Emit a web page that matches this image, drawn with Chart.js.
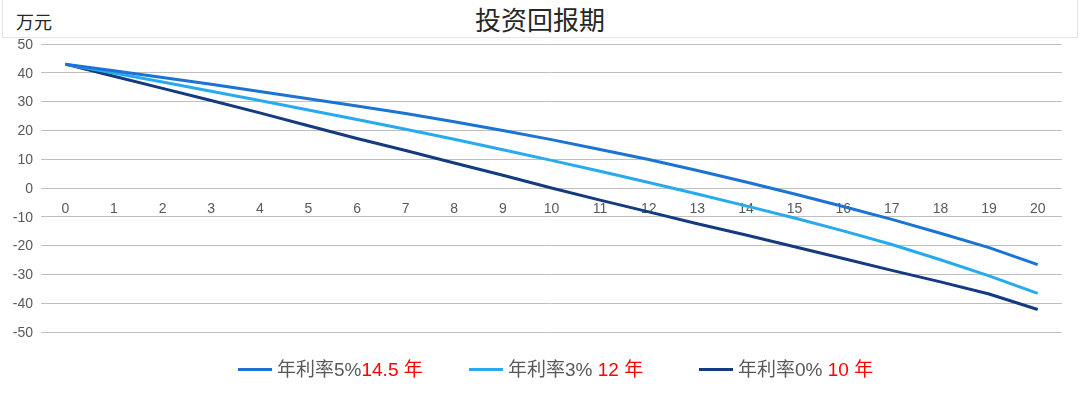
<!DOCTYPE html>
<html>
<head>
<meta charset="utf-8">
<script src="https://cdn.jsdelivr.net/npm/chart.js@4.4.0/dist/chart.umd.min.js"></script>
<style>
    html, body { margin: 0; padding: 0; background: #fff; }
    #wrap { position: relative; width: 1080px; height: 398px; overflow: hidden; }
    #payback { position: absolute; left: 0; top: 0; }
    #headBox { position: absolute; left: 2px; top: 0; width: 1076px; height: 38px; border: 1px solid #e4e4e4; border-top: none; box-sizing: border-box; }
    #title { position: absolute; left: 0; top: 2px; width: 1080px; text-align: center; font-family: "Noto Sans CJK SC", sans-serif; font-size: 26px; line-height: 34px; color: #262626; }
    #unit { position: absolute; left: 16px; top: 8px; font-family: "Noto Sans CJK SC", sans-serif; font-size: 18px; line-height: 26px; color: #262626; }
    #legend { position: absolute; left: 0; top: 356px; width: 1080px; height: 28px; font-family: "Liberation Sans", "Noto Sans CJK SC", sans-serif; font-size: 19px; }
    .item { position: absolute; top: 0; white-space: nowrap; line-height: 28px; }
    .swatch { display: inline-block; width: 34px; height: 3px; vertical-align: middle; margin-right: 5px; margin-bottom: 3px; }
    .name { color: #595959; }
    .years { color: #ff0000; }
</style>
</head>
<body>
<div id="wrap">
    <div id="headBox"></div>
    <div id="title">投资回报期</div>
    <div id="unit">万元</div>
    <canvas id="payback" width="1080" height="398"></canvas>
    <div id="legend"></div>
</div>
<script>
    'use strict';

    var years = ['0', '1', '2', '3', '4', '5', '6', '7', '8', '9', '10',
                 '11', '12', '13', '14', '15', '16', '17', '18', '19', '20'];

    // 剩余投资 (万元)
    var rate5 = [43, 40.7, 38.4, 36.0, 33.5, 31.0, 28.5, 25.9, 23.0, 20.0, 16.8,
                 13.4, 9.9, 6.1, 2.1, -2.1, -6.4, -10.9, -15.7, -20.7, -26.6];
    var rate3 = [43, 39.9, 36.8, 33.6, 30.4, 27.1, 23.8, 20.4, 16.9, 13.3, 9.6,
                 5.8, 1.9, -2.1, -6.2, -10.4, -14.9, -19.6, -24.9, -30.5, -36.6];
    var rate0 = [43, 38.8, 34.6, 30.4, 26.1, 21.6, 17.2, 13.0, 8.7, 4.4, 0,
                 -4.2, -8.3, -12.4, -16.3, -20.4, -24.5, -28.6, -32.6, -36.8, -42.2];

    var seriesNames = ['年利率5%', '年利率3%', '年利率0%'];
    var paybackLabels = ['14.5 年', ' 12 年', ' 10 年'];
    var seriesColors = ['#1b74d3', '#27abee', '#143b80'];
    var legendLeft = [238, 469, 699];

    var yMin = -50;
    var yMax = 50;
    var yStep = 10;

    var legend = document.getElementById('legend');
    seriesNames.forEach(function (name, i) {
        var item = document.createElement('div');
        item.className = 'item';
        item.style.left = legendLeft[i] + 'px';
        item.innerHTML = '<span class="swatch" style="background:' + seriesColors[i] + '"></span>' +
            '<span class="name">' + name + '</span><span class="years">' + paybackLabels[i] + '</span>';
        legend.appendChild(item);
    });

    var seriesData = [rate5, rate3, rate0];

    var paybackChart = new Chart(document.getElementById('payback'), {
        type: 'line',
        data: {
            labels: years,
            datasets: seriesData.map(function (values, i) {
                return {
                    label: seriesNames[i],
                    data: values,
                    borderColor: seriesColors[i],
                    backgroundColor: seriesColors[i],
                    borderWidth: 3,
                    pointRadius: 0,
                    tension: 0,
                    fill: false
                };
            })
        },
        options: {
            responsive: false,
            animation: false,
            layout: {
                padding: { top: 44, bottom: 66, left: 0, right: 18 }
            },
            plugins: {
                legend: { display: false },
                title: { display: false },
                tooltip: { enabled: false }
            },
            scales: {
                x: {
                    type: 'category',
                    offset: true,
                    position: { y: 0 },
                    grid: { display: false },
                    border: { display: false },
                    ticks: {
                        color: '#595959',
                        padding: 5,
                        maxRotation: 0,
                        autoSkip: false,
                        font: { family: '"Liberation Sans", Arial, sans-serif', size: 14 }
                    }
                },
                y: {
                    min: yMin,
                    max: yMax,
                    afterFit: function (scale) { scale.width = 41; },
                    grid: { color: '#bfbfbf', lineWidth: 1, drawTicks: false },
                    border: { display: false },
                    ticks: {
                        stepSize: yStep,
                        color: '#595959',
                        padding: 8,
                        labelOffset: 1,
                        font: { family: '"Liberation Sans", Arial, sans-serif', size: 14 }
                    }
                }
            }
        }
    });
</script>
</body>
</html>
